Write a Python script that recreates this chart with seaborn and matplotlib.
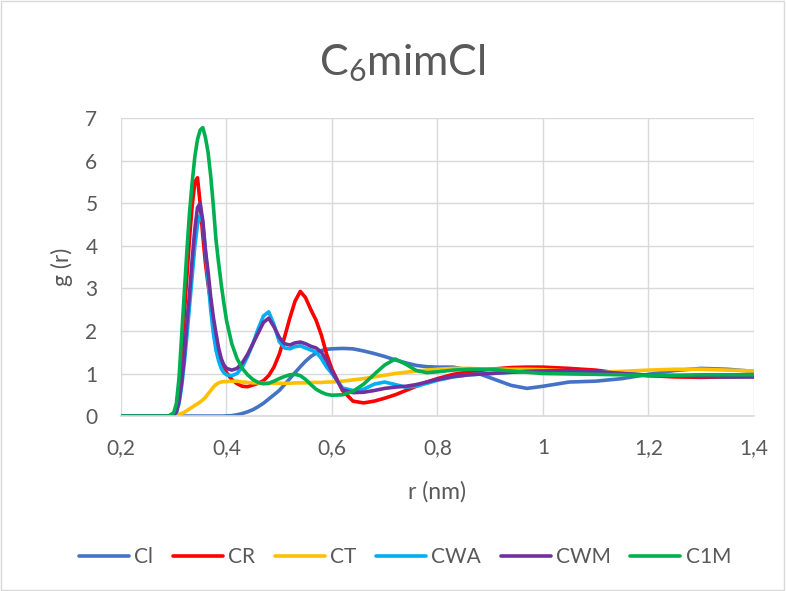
import numpy as np
import pandas as pd
import matplotlib
matplotlib.use("Agg")
import matplotlib.pyplot as plt
import seaborn as sns

# radial distance grid (nm)
r = [0.20, 0.29, 0.30, 0.305, 0.31, 0.315, 0.32, 0.325, 0.33, 0.335, 0.34, 0.345,
     0.35, 0.355, 0.36, 0.365, 0.37, 0.375, 0.38, 0.385, 0.39, 0.395, 0.40,
     0.41, 0.42, 0.43, 0.44, 0.45, 0.46, 0.47, 0.48, 0.49, 0.50,
     0.51, 0.52, 0.53, 0.54, 0.55, 0.56, 0.57, 0.58, 0.59, 0.60,
     0.62, 0.64, 0.66, 0.68, 0.70, 0.72, 0.74, 0.76, 0.78, 0.80,
     0.83, 0.86, 0.90, 0.94, 0.97, 1.00,
     1.05, 1.10, 1.15, 1.20, 1.25, 1.30, 1.35, 1.40]

g_cl = [0, 0, 0, 0, 0, 0, 0, 0, 0, 0, 0, 0,
        0, 0, 0, 0, 0, 0, 0, 0, 0, 0, 0.005,
        0.01, 0.03, 0.06, 0.10, 0.15, 0.22, 0.30, 0.40, 0.50, 0.60,
        0.74, 0.88, 1.02, 1.16, 1.29, 1.40, 1.48, 1.54, 1.57, 1.58,
        1.59, 1.58, 1.53, 1.47, 1.40, 1.32, 1.25, 1.19, 1.16, 1.15,
        1.15, 1.08, 0.90, 0.72, 0.65, 0.70,
        0.80, 0.82, 0.88, 0.98, 1.07, 1.12, 1.10, 1.05]

g_cr = [0, 0, 0.05, 0.2, 0.7, 1.5, 2.4, 3.3, 4.2, 4.95, 5.5, 5.6,
        5.0, 4.25, 3.6, 3.1, 2.7, 2.2, 1.8, 1.5, 1.3, 1.14, 1.02,
        0.86, 0.76, 0.70, 0.69, 0.73, 0.77, 0.83, 0.95, 1.15, 1.45,
        1.85, 2.3, 2.7, 2.93, 2.78, 2.5, 2.25, 1.9, 1.45, 1.1,
        0.6, 0.35, 0.31, 0.35, 0.42, 0.5, 0.6, 0.7, 0.8, 0.88,
        0.98, 1.04, 1.1, 1.14, 1.15, 1.15,
        1.12, 1.08, 1.0, 0.95, 0.92, 0.91, 0.92, 0.93]

g_ct = [0, 0, 0.01, 0.02, 0.04, 0.06, 0.09, 0.13, 0.17, 0.21, 0.25, 0.29,
        0.33, 0.38, 0.44, 0.52, 0.60, 0.68, 0.74, 0.78, 0.80, 0.81, 0.81,
        0.82, 0.82, 0.80, 0.79, 0.78, 0.78, 0.77, 0.77, 0.77, 0.77,
        0.77, 0.77, 0.78, 0.78, 0.78, 0.79, 0.79, 0.79, 0.80, 0.80,
        0.82, 0.85, 0.88, 0.92, 0.96, 1.0, 1.03, 1.06, 1.08, 1.10,
        1.12, 1.12, 1.10, 1.10, 1.10, 1.09,
        1.06, 1.03, 1.05, 1.08, 1.10, 1.10, 1.08, 1.06]

g_cwa = [0, 0, 0.02, 0.08, 0.3, 0.7, 1.25, 1.9, 2.6, 3.3, 4.0, 4.5,
         4.72, 4.55, 3.9, 3.2, 2.5, 1.95, 1.55, 1.3, 1.12, 1.02, 0.97,
         0.95, 1.0, 1.15, 1.4, 1.7, 2.05, 2.35, 2.45, 2.15, 1.75,
         1.6, 1.58, 1.63, 1.65, 1.6, 1.55, 1.5, 1.35, 1.15, 1.0,
         0.66, 0.6, 0.63, 0.75, 0.8, 0.74, 0.68, 0.7, 0.77, 0.84,
         0.92, 0.97, 1.0, 1.03, 1.05, 1.05,
         1.06, 1.04, 1.0, 0.96, 0.95, 0.94, 0.93, 0.93]

g_cwm = [0, 0, 0.03, 0.1, 0.35, 0.8, 1.4, 2.2, 2.9, 3.7, 4.4, 4.9,
         5.0, 4.6, 3.9, 3.4, 2.8, 2.33, 1.95, 1.6, 1.35, 1.2, 1.12,
         1.08, 1.12, 1.25, 1.45, 1.7, 1.95, 2.2, 2.3, 2.1, 1.85,
         1.7, 1.67, 1.72, 1.74, 1.7, 1.64, 1.6, 1.5, 1.3, 1.05,
         0.62, 0.55, 0.56, 0.6, 0.65, 0.68, 0.7, 0.74, 0.8, 0.86,
         0.93, 0.97, 1.0, 1.03, 1.05, 1.06,
         1.07, 1.05, 1.0, 0.96, 0.94, 0.93, 0.92, 0.92]

g_c1m = [0, 0, 0.08, 0.3, 0.9, 1.9, 2.9, 3.9, 4.8, 5.5, 6.1, 6.5,
         6.72, 6.78, 6.55, 6.2, 5.65, 4.95, 4.15, 3.6, 3.1, 2.65, 2.25,
         1.7, 1.35, 1.12, 0.97, 0.86, 0.79, 0.76, 0.77, 0.82, 0.88,
         0.93, 0.97, 0.98, 0.95, 0.86, 0.74, 0.63, 0.56, 0.51, 0.49,
         0.50, 0.58, 0.75, 0.98, 1.2, 1.34, 1.22, 1.07, 1.02, 1.04,
         1.08, 1.10, 1.10, 1.06, 1.03, 1.0,
         0.99, 0.98, 0.97, 0.95, 0.96, 0.97, 0.97, 0.97]

series = ["Cl", "CR", "CT", "CWA", "CWM", "C1M"]
colors = ["#4472C4", "#FF0000", "#FFC000", "#00B0F0", "#7030A0", "#00B050"]
x_ticks = [0.2, 0.4, 0.6, 0.8, 1.0, 1.2, 1.4]
x_labels = ["0,2", "0,4", "0,6", "0,8", "1", "1,2", "1,4"]
y_ticks = [0, 1, 2, 3, 4, 5, 6, 7]

df = pd.concat([
    pd.DataFrame({"r": r, "g": vals, "serie": name})
    for name, vals in zip(series, [g_cl, g_cr, g_ct, g_cwa, g_cwm, g_c1m])
])

sns.set_theme(style="white")
plt.rcParams["font.family"] = ["Lato", "DejaVu Sans"]
plt.rcParams["mathtext.default"] = "regular"
gris = "#595959"

fig = plt.figure(figsize=(7.86, 5.91), dpi=100)
ax = fig.add_axes([0.154, 0.296, 0.805, 0.504])

sns.lineplot(data=df, x="r", y="g", hue="serie", hue_order=series,
             palette=colors, linewidth=2.6, ax=ax, legend=False)

ax.set_xlim(0.2, 1.4)
ax.set_ylim(0, 7)
ax.set_xticks(x_ticks)
ax.set_xticklabels(x_labels)
ax.set_yticks(y_ticks)
ax.grid(True, color="#d9d9d9", linewidth=1.0)
ax.set_axisbelow(True)
for lado in ["top", "right", "left"]:
    ax.spines[lado].set_visible(False)
ax.spines["bottom"].set_color("#d9d9d9")
ax.spines["bottom"].set_linewidth(1.2)
ax.tick_params(axis="x", length=0, labelsize=15, labelcolor=gris, pad=16)
ax.tick_params(axis="y", length=0, labelsize=15, labelcolor=gris, pad=17)

ax.set_xlabel("r (nm)", fontsize=16.5, color=gris)
ax.set_ylabel("g (r)", fontsize=16.5, color=gris)
ax.xaxis.set_label_coords(0.5, -0.255)
ax.yaxis.set_label_coords(-0.093, 0.5)
ax.xaxis.label.set_va("center")
ax.yaxis.label.set_va("center")
fig.text(0.512, 1 - 75 / 591, "C$_6$mimCl", ha="center", va="baseline",
         fontsize=31, color=gris)

handles = [plt.Line2D([], [], color=c, linewidth=2.6, solid_capstyle="round")
           for c in colors]
fig.legend(handles, series, loc="center", bbox_to_anchor=(0.515, 0.0575),
           ncol=6, frameon=False, fontsize=15, labelcolor=gris,
           handlelength=2.4, handletextpad=0.25, columnspacing=0.95)

fig.patches.append(plt.Rectangle((0.001, 0.001), 0.997, 0.997, transform=fig.transFigure,
                                 fill=False, edgecolor="#d9d9d9", linewidth=1))

fig.savefig("out.png", dpi=100)
